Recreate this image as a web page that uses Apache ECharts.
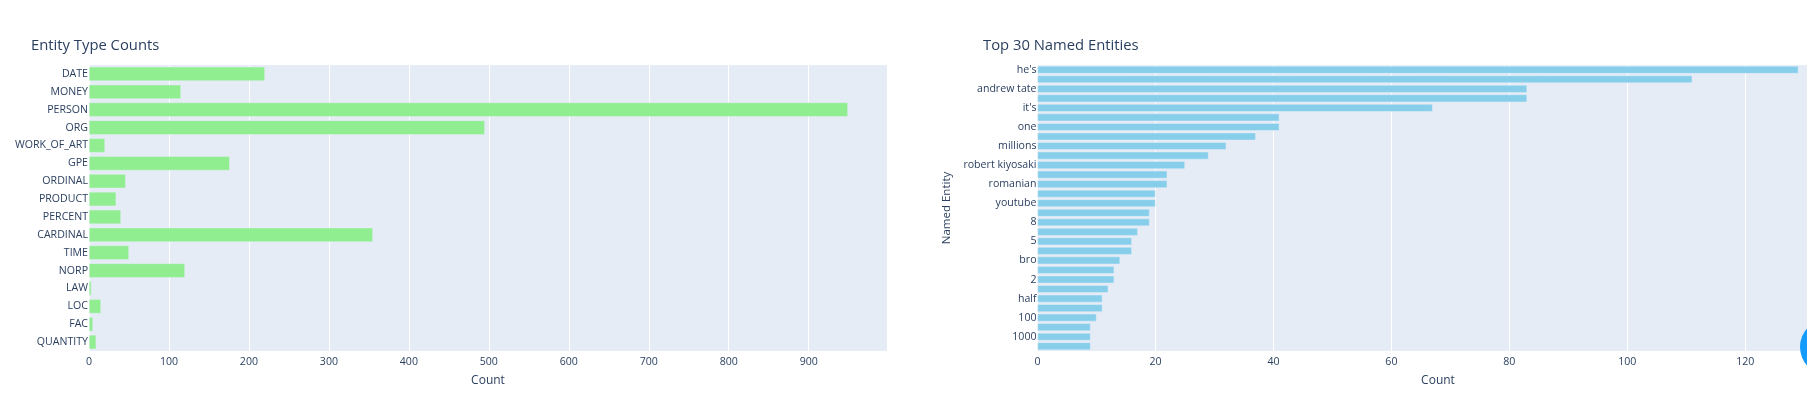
<!DOCTYPE html>
<html>
<head>
<meta charset="utf-8">
<title>Entities</title>
<script src="https://cdn.jsdelivr.net/npm/echarts@6/dist/echarts.min.js"></script>
<style>
  html, body { margin: 0; padding: 0; background: #fff; overflow: hidden; }
  #chart { width: 1807px; height: 396px; }
</style>
</head>
<body>
<div id="chart"></div>
<script>
const typeLabels = ['DATE', 'MONEY', 'PERSON', 'ORG', 'WORK_OF_ART', 'GPE', 'ORDINAL', 'PRODUCT', 'PERCENT', 'CARDINAL', 'TIME', 'NORP', 'LAW', 'LOC', 'FAC', 'QUANTITY']
const typeCounts = [220, 115, 949, 495, 20, 176, 46, 34, 40, 355, 50, 120, 3, 15, 5, 9]

// every second name is skipped on the reference axis, so those stay blank
const entityLabels = ["he's", '', 'andrew tate', '', "it's", '', 'one', '', 'millions', '', 'robert kiyosaki', '', 'romanian', '', 'youtube', '', '8', '', '5', '', 'bro', '', '2', '', 'half', '', '100', '', '1000', '']
const entityCounts = [129, 111, 83, 83, 67, 41, 41, 37, 32, 29, 25, 22, 22, 20, 20, 19, 19, 17, 16, 16, 14, 13, 13, 12, 11, 11, 10, 9, 9, 9]

const font = '"Open Sans", verdana, arial, sans-serif'
const ink = '#2a3f5f'

function valueAxis(gridIndex, max, interval) {
  return {
    type: 'value',
    gridIndex,
    min: 0,
    max,
    interval,
    name: 'Count',
    nameLocation: 'middle',
    nameGap: 24,
    nameTextStyle: { color: ink, fontFamily: font, fontSize: 12 },
    axisLine: { show: false },
    axisTick: { show: false },
    axisLabel: { color: ink, fontFamily: font, fontSize: 10.6, margin: 5, showMaxLabel: false },
    splitLine: { show: true, lineStyle: { color: '#ffffff', width: 1 } }
  }
}

function categoryAxis(gridIndex, labels, name) {
  return {
    type: 'category',
    gridIndex,
    data: labels,
    inverse: true,
    name,
    nameLocation: 'middle',
    nameGap: 85,
    nameTextStyle: { color: ink, fontFamily: font, fontSize: 11.5 },
    axisLine: { show: false },
    axisTick: { show: false },
    axisLabel: { color: ink, fontFamily: font, fontSize: 10.6, margin: 1, interval: 0 },
    splitLine: { show: false }
  }
}

function barSeries(index, values, color) {
  return {
    type: 'bar',
    xAxisIndex: index,
    yAxisIndex: index,
    data: values,
    barCategoryGap: '20%',
    silent: true,
    itemStyle: { color, borderColor: '#E5ECF6', borderWidth: 0.5 }
  }
}

const chart = echarts.init(document.getElementById('chart'), null, { renderer: 'canvas' })

chart.setOption({
  animation: false,
  backgroundColor: '#ffffff',
  title: [
    { text: 'Entity Type Counts', left: 26, top: 33, textStyle: { color: ink, fontFamily: font, fontSize: 14.8, fontWeight: 'normal' } },
    { text: 'Top 30 Named Entities', left: 978, top: 33, textStyle: { color: ink, fontFamily: font, fontSize: 14.8, fontWeight: 'normal' } }
  ],
  grid: [
    { left: 89, top: 65, width: 798, height: 286, show: true, backgroundColor: '#E5ECF6', borderWidth: 0 },
    // the right plot runs off the page in the reference
    { left: 1037.5, top: 65, width: 801, height: 286, show: true, backgroundColor: '#E5ECF6', borderWidth: 0, outerBoundsMode: 'none' }
  ],
  xAxis: [valueAxis(0, 997.9, 100), valueAxis(1, 135.8, 20)],
  yAxis: [categoryAxis(0, typeLabels, ''), categoryAxis(1, entityLabels, 'Named Entity')],
  series: [barSeries(0, typeCounts, '#90EE90'), barSeries(1, entityCounts, '#87CEEB')],
  // round page widget cut off by the right edge
  graphic: [{ type: 'circle', silent: true, shape: { cx: 1828, cy: 347, r: 28 }, style: { fill: '#149BFC' } }]
})
</script>
</body>
</html>
